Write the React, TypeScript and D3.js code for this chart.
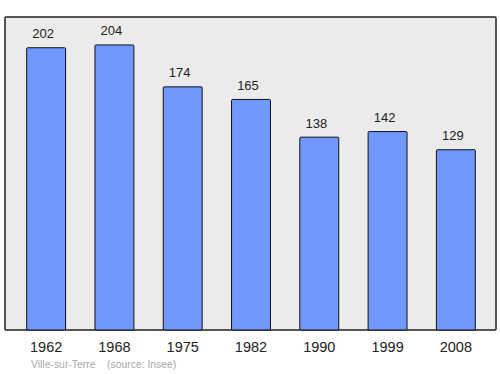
import React from "react";
import * as d3 from "d3";

const years = ["1962", "1968", "1975", "1982", "1990", "1999", "2008"];
const population = [202, 204, 174, 165, 138, 142, 129];
const caption = "Ville-sur-Terre    (source: Insee)";

export default function App() {
  const W = 500, H = 374;
  const frame = { x0: 5, x1: 496, y0: 17, y1: 330 };
  const x = d3.scaleBand<string>().domain(years).range([12, 490]).paddingInner(0.43).paddingOuter(0.215);
  const y = d3.scaleLinear().domain([0, 224]).range([frame.y1, frame.y0]);
  const font = "'Liberation Sans', Arial, sans-serif";
  return (
    <svg width={W} height={H} style={{ position: "absolute", left: 0, top: 0 }} fontFamily={font}>
      <rect x={frame.x0} y={frame.y0} width={frame.x1 - frame.x0} height={frame.y1 - frame.y0} fill="#ebebeb" stroke="#222" strokeWidth={1.5} rx={1} />
      {population.map((v, i) => {
        const bx = x(years[i])!;
        const bw = x.bandwidth();
        return (
          <g key={years[i]}>
            <rect x={bx} y={y(v)} width={bw} height={y(0) - y(v)} fill="#7098ff" stroke="#111" strokeWidth={1} rx={1} />
            <text x={bx + bw / 2 - 3} y={y(v) - 9.5} textAnchor="middle" fontSize={13} fill="#222">{v}</text>
            <text x={bx + bw / 2} y={352} textAnchor="middle" fontSize={14.5} fill="#222">{years[i]}</text>
          </g>
        );
      })}
      <text x={31} y={368} fontSize={10.4} fill="#aaa" style={{ whiteSpace: "pre" }}>{caption}</text>
    </svg>
  );
}
